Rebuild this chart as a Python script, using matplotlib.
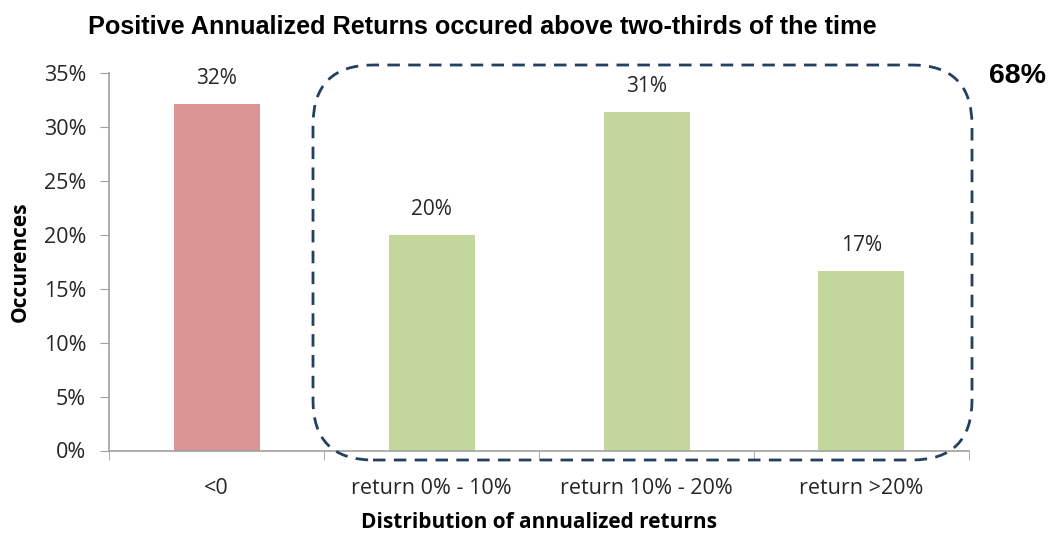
import matplotlib
matplotlib.use("Agg")
import matplotlib.pyplot as plt
from matplotlib.patches import FancyBboxPatch
from matplotlib.ticker import FuncFormatter, MultipleLocator

categories = ["<0", "return 0% - 10%", "return 10% - 20%", "return >20%"]
values = [32.1, 20.0, 31.4, 16.6]
labels = ["32%", "20%", "31%", "17%"]
colors = ["#D99694", "#C3D69B", "#C3D69B", "#C3D69B"]

W, H = 1055, 533
fig = plt.figure(figsize=(W / 100, H / 100), dpi=100)
ax = fig.add_axes([109 / W, 1 - 450.5 / H, (969 - 109) / W, (450.5 - 73) / H])

font = ["Open Sans", "DejaVu Sans"]
fs = 15
x = list(range(len(categories)))
ax.bar(x, values, width=0.4, color=colors, zorder=2)
for xi, v, lab in zip(x, values, labels):
    ax.text(xi, v + 1.4, lab, ha="center", va="bottom", fontsize=fs,
            family=font, color="#262626")

ax.set_xlim(-0.5, len(categories) - 0.5)
ax.set_ylim(0, 35)
ax.yaxis.set_major_locator(MultipleLocator(5))
ax.yaxis.set_major_formatter(FuncFormatter(lambda v, p: f"{v:.0f}%"))
ax.set_xticks(x)
ax.set_xticklabels(categories, family=font, fontsize=15.5, color="#262626")
ax.set_xticks([i + 0.5 for i in range(-1, len(categories))], minor=True)
ax.tick_params(axis="x", which="major", length=0, pad=20)
ax.tick_params(axis="x", which="minor", length=6.5, color="#A0A0A0", direction="out")
ax.tick_params(axis="y", length=6.5, color="#A0A0A0", labelsize=15.5, labelcolor="#262626", pad=10)
for t in ax.get_yticklabels():
    t.set_family(font)
for s in ["top", "right"]:
    ax.spines[s].set_visible(False)
for s in ["left", "bottom"]:
    ax.spines[s].set_color("#A0A0A0")
    ax.spines[s].set_linewidth(1.2)

ax.set_xlabel("Distribution of annualized returns", family=font, fontsize=fs,
              fontweight="bold", labelpad=9)
ax.set_ylabel("Occurences", family=font, fontsize=fs, fontweight="bold", labelpad=9)

fig.text(88 / W, 1 - 27 / H, "Positive Annualized Returns occured above two-thirds of the time",
         family=["Liberation Sans", "DejaVu Sans"],
         fontsize=18.2, fontweight="bold", ha="left", va="center")
fig.text(1018 / W, 1 - 76 / H, "68%", family=["Liberation Sans", "DejaVu Sans"],
         fontsize=20.5, fontweight="bold", ha="center", va="center")

# dashed rounded box in inches
left, right, top, bottom = 3.13, 9.72, (H - 65) / 100, (H - 460) / 100
box = FancyBboxPatch((left, bottom), right - left, top - bottom,
                     boxstyle="round,pad=0,rounding_size=0.6",
                     transform=fig.dpi_scale_trans, fill=False,
                     edgecolor="#243F60", linewidth=2, linestyle=(0, (4.5, 3)),
                     zorder=5, clip_on=False)
fig.patches.append(box)

fig.savefig("out.png", dpi=100)
